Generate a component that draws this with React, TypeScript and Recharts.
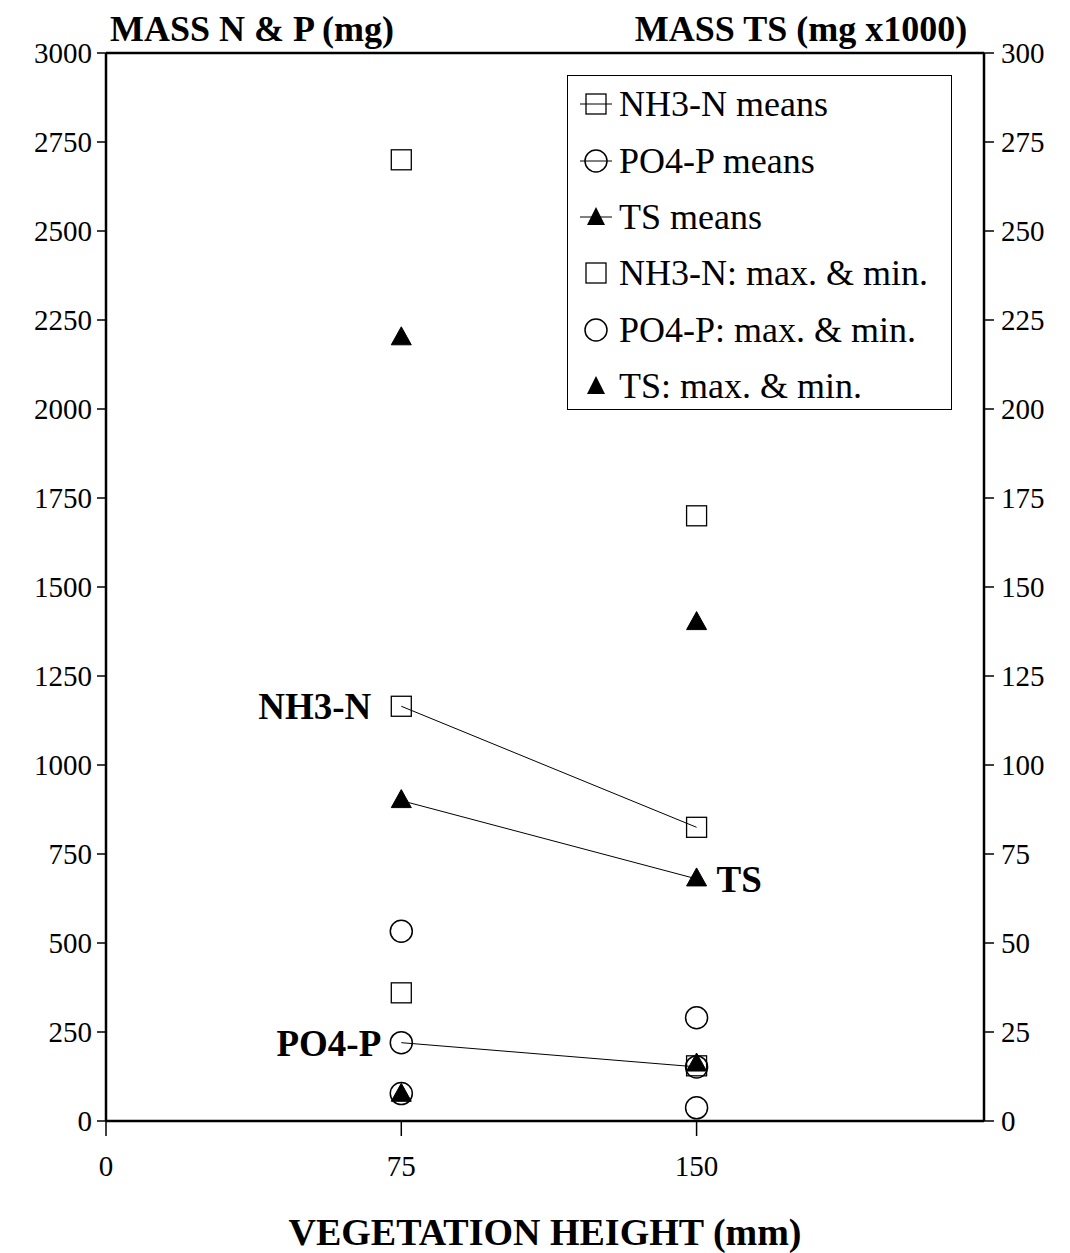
import {
  ScatterChart,
  Scatter,
  XAxis,
  YAxis,
  ReferenceLine,
  ReferenceDot,
} from 'recharts';

const FONT = "'Liberation Serif', Tinos, 'DejaVu Serif', serif";

// axis ticks
const X_TICKS = [0, 75, 150];
const LEFT_TICKS = [0, 250, 500, 750, 1000, 1250, 1500, 1750, 2000, 2250, 2500, 2750, 3000];
const RIGHT_TICKS = [0, 25, 50, 75, 100, 125, 150, 175, 200, 225, 250, 275, 300];

// means (N & P in mg, TS in mg x1000)
const nh3Means = [
  { x: 75, y: 1165 },
  { x: 150, y: 825 },
];
const po4Means = [
  { x: 75, y: 220 },
  { x: 150, y: 152 },
];
const tsMeans = [
  { x: 75, y: 90 },
  { x: 150, y: 68 },
];

// max & min
const nh3MaxMin = [
  { x: 75, y: 2700 },
  { x: 75, y: 360 },
  { x: 150, y: 1700 },
  { x: 150, y: 155 },
];
const po4MaxMin = [
  { x: 75, y: 533 },
  { x: 75, y: 77 },
  { x: 150, y: 290 },
  { x: 150, y: 37 },
];
const tsMaxMin = [
  { x: 75, y: 220 },
  { x: 75, y: 7.5 },
  { x: 150, y: 140 },
  { x: 150, y: 16 },
];

const SquareMark = (props: any) => {
  const { cx, cy } = props;
  return <rect x={cx - 10} y={cy - 10} width={20} height={20} fill="none" stroke="#000" strokeWidth={1.3} />;
};

const CircleMark = (props: any) => {
  const { cx, cy } = props;
  return <circle cx={cx} cy={cy} r={11} fill="none" stroke="#000" strokeWidth={1.5} />;
};

const TriangleMark = (props: any) => {
  const { cx, cy } = props;
  return (
    <polygon
      points={`${cx},${cy - 11} ${cx - 10},${cy + 7} ${cx + 10},${cy + 7}`}
      fill="#000"
      stroke="#000"
      strokeWidth={1}
    />
  );
};

const LEGEND_ITEMS = [
  { label: 'NH3-N means', kind: 'square', line: true },
  { label: 'PO4-P means', kind: 'circle', line: true },
  { label: 'TS means', kind: 'triangle', line: true },
  { label: 'NH3-N: max. & min.', kind: 'square', line: false },
  { label: 'PO4-P: max. & min.', kind: 'circle', line: false },
  { label: 'TS: max. & min.', kind: 'triangle', line: false },
];

function LegendIcon({ kind, line }: { kind: string; line: boolean }) {
  return (
    <svg width={40} height={30} style={{ display: 'block' }}>
      {line && <line x1={4} y1={15} x2={36} y2={15} stroke="#000" strokeWidth={1} />}
      {kind === 'square' && <rect x={10} y={5} width={20} height={20} fill="none" stroke="#000" strokeWidth={1.3} />}
      {kind === 'circle' && <circle cx={20} cy={15} r={11} fill="none" stroke="#000" strokeWidth={1.5} />}
      {kind === 'triangle' && <polygon points="20,5 11,23 29,23" fill="#000" />}
    </svg>
  );
}

const labelStyle = { fontFamily: FONT, fontSize: 37, fontWeight: 'bold', fill: '#000' };
const tickStyle = { fill: '#000', fontSize: 29, fontFamily: FONT };

export default function App() {
  return (
    <div
      style={{
        position: 'absolute',
        left: 0,
        top: 0,
        width: 1070,
        height: 1253,
        background: '#fff',
        fontFamily: FONT,
        color: '#000',
      }}
    >
      <ScatterChart width={1070} height={1253} margin={{ top: 53, right: 0, bottom: 0, left: 0 }}>
        <XAxis
          type="number"
          dataKey="x"
          domain={[0, 223]}
          ticks={X_TICKS}
          height={132}
          tickSize={15}
          tickMargin={19}
          tick={tickStyle}
          axisLine={{ stroke: '#000', strokeWidth: 2.5 }}
          tickLine={{ stroke: '#000', strokeWidth: 1.5 }}
          label={{
            value: 'VEGETATION HEIGHT (mm)',
            position: 'insideBottom',
            offset: 8,
            style: { ...labelStyle, fontSize: 38 },
          }}
        />
        <YAxis
          yAxisId="left"
          type="number"
          dataKey="y"
          domain={[0, 3000]}
          ticks={LEFT_TICKS}
          width={106}
          tickSize={9}
          tickMargin={5}
          tick={tickStyle}
          axisLine={{ stroke: '#000', strokeWidth: 2.5 }}
          tickLine={{ stroke: '#000', strokeWidth: 1.5 }}
          interval={0}
        />
        <YAxis
          yAxisId="right"
          orientation="right"
          type="number"
          dataKey="y"
          domain={[0, 300]}
          ticks={RIGHT_TICKS}
          width={86}
          tickSize={10}
          tickMargin={7}
          tick={tickStyle}
          axisLine={{ stroke: '#000', strokeWidth: 2.5 }}
          tickLine={{ stroke: '#000', strokeWidth: 1.5 }}
          interval={0}
        />
        <ReferenceLine yAxisId="left" y={3000} stroke="#000" strokeWidth={2.5} />

        <Scatter
          name="NH3-N means"
          yAxisId="left"
          data={nh3Means}
          shape={SquareMark}
          line={{ stroke: '#000', strokeWidth: 1 }}
          isAnimationActive={false}
        />
        <Scatter
          name="PO4-P means"
          yAxisId="left"
          data={po4Means}
          shape={CircleMark}
          line={{ stroke: '#000', strokeWidth: 1 }}
          isAnimationActive={false}
        />
        <Scatter
          name="TS means"
          yAxisId="right"
          data={tsMeans}
          shape={TriangleMark}
          line={{ stroke: '#000', strokeWidth: 1 }}
          isAnimationActive={false}
        />
        <Scatter name="NH3-N: max. & min." yAxisId="left" data={nh3MaxMin} shape={SquareMark} isAnimationActive={false} />
        <Scatter name="PO4-P: max. & min." yAxisId="left" data={po4MaxMin} shape={CircleMark} isAnimationActive={false} />
        <Scatter name="TS: max. & min." yAxisId="right" data={tsMaxMin} shape={TriangleMark} isAnimationActive={false} />

        <ReferenceDot
          yAxisId="left"
          x={nh3Means[0].x}
          y={nh3Means[0].y}
          r={0}
          fill="none"
          stroke="none"
          label={{ value: 'NH3-N', position: 'left', offset: 30, style: labelStyle }}
        />
        <ReferenceDot
          yAxisId="left"
          x={po4Means[0].x}
          y={po4Means[0].y}
          r={0}
          fill="none"
          stroke="none"
          label={{ value: 'PO4-P', position: 'left', offset: 20, style: labelStyle }}
        />
        <ReferenceDot
          yAxisId="right"
          x={tsMeans[1].x}
          y={tsMeans[1].y}
          r={0}
          fill="none"
          stroke="none"
          label={{ value: 'TS', position: 'right', offset: 20, style: labelStyle }}
        />
      </ScatterChart>

      <div
        style={{
          position: 'absolute',
          left: 0,
          top: 11,
          width: 504,
          textAlign: 'center',
          fontSize: 36,
          fontWeight: 'bold',
          lineHeight: 1,
        }}
      >
        MASS N &amp; P (mg)
      </div>
      <div
        style={{
          position: 'absolute',
          left: 600,
          top: 11,
          width: 402,
          textAlign: 'center',
          fontSize: 36,
          fontWeight: 'bold',
          lineHeight: 1,
        }}
      >
        MASS TS (mg x1000)
      </div>

      <div
        style={{
          position: 'absolute',
          left: 567,
          top: 75,
          width: 385,
          height: 335,
          boxSizing: 'border-box',
          border: '1.5px solid #000',
          background: '#fff',
        }}
      >
        {LEGEND_ITEMS.map((item) => (
          <div
            key={item.label}
            style={{ display: 'flex', alignItems: 'center', height: 56.4, paddingLeft: 8 }}
          >
            <LegendIcon kind={item.kind} line={item.line} />
            <span style={{ fontSize: 36, lineHeight: 1, marginLeft: 3, whiteSpace: 'nowrap' }}>{item.label}</span>
          </div>
        ))}
      </div>
    </div>
  );
}
